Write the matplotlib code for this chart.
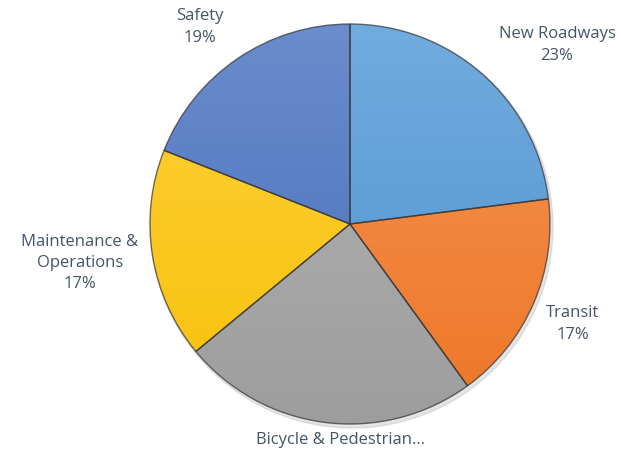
import numpy as np
import matplotlib
matplotlib.use("Agg")
import matplotlib.pyplot as plt
from matplotlib.colors import to_rgb

# data
categories = ["New Roadways", "Transit", "Bicycle & Pedestrian\u2026",
              "Maintenance &\nOperations", "Safety"]
shares = [23, 17, 24, 17, 19]
show_pct = [True, True, False, True, True]
colors = ["#4f96d6", "#f47a28", "#a2a2a2", "#ffc60a", "#4670c0"]

# label anchors in pixel coords (x, y from top)
label_pos = [(557, 45), (573, 324), (340, 440), (80, 263), (200, 27)]

W, H = 621, 452
CX, CY, R = 350, H - 225, 200
TXT = "#44546a"

fig = plt.figure(figsize=(W / 100, H / 100), dpi=100)
ax = fig.add_axes([0, 0, 1, 1])

# soft shadow
shadow = plt.Circle((CX + 2, CY - 3), R + 1, color="0.6", alpha=0.25, zorder=0)
ax.add_patch(shadow)

wedges, _ = ax.pie(shares, colors=colors, startangle=90, counterclock=False,
                   center=(CX, CY), radius=R, frame=True,
                   wedgeprops=dict(edgecolor="#3b3b3b", linewidth=1.0))

# vertical gradient inside each wedge, lighter on top
for w, c in zip(wedges, colors):
    base = np.array(to_rgb(c))
    light = base + (1 - base) * 0.2
    dark = base * 0.97
    t = np.linspace(0, 1, 256)[:, None]
    grad = light * (1 - t) + dark * t
    img = ax.imshow(grad[:, None, :], extent=(CX - R, CX + R, CY - R, CY + R),
                    aspect="auto", zorder=1.5, interpolation="bilinear")
    img.set_clip_path(w)
    w.set_zorder(2)
    w.set_facecolor("none")
    w.set_edgecolor((0.2, 0.2, 0.2, 0.7))

ax.set_xlim(0, W)
ax.set_ylim(0, H)
ax.set_aspect("equal")
ax.axis("off")

for name, val, show, (px, py) in zip(categories, shares, show_pct, label_pos):
    txt = f"{name}\n{val}%" if show else name
    ax.text(px, H - py, txt, ha="center", va="center", color=TXT,
            fontsize=12, family="Open Sans", linespacing=1.45)

fig.savefig("out.png", dpi=100)
